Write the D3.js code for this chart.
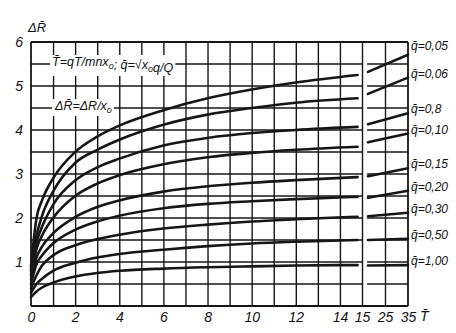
<!DOCTYPE html>
<html><head><meta charset="utf-8">
<script src="https://cdn.jsdelivr.net/npm/d3@7"></script>
<style>
html,body{margin:0;padding:0;background:#fff;}
svg text{font-family:"Liberation Sans Narrow","Liberation Sans",Arial,sans-serif;font-style:italic;fill:#111;}
</style></head><body>
<svg id="chart" width="456" height="333"></svg>
<script>
// ---- data ----
const tMain = [0, 0.25, 0.5, 1, 2, 3, 4, 6, 8, 10, 12, 14.8];
const q005 = [0.9, 2.0, 2.4, 2.9, 3.5, 3.85, 4.1, 4.45, 4.72, 4.92, 5.08, 5.25];
const q006 = [0.85, 1.6, 2.05, 2.6, 3.25, 3.55, 3.78, 4.12, 4.35, 4.5, 4.62, 4.72];
const q008 = [0.8, 1.45, 1.8, 2.3, 2.85, 3.15, 3.35, 3.65, 3.82, 3.93, 4.0, 4.07];
const q010 = [0.7, 1.3, 1.6, 2.0, 2.5, 2.78, 2.97, 3.22, 3.38, 3.48, 3.55, 3.62];
const q015 = [0.6, 1.1, 1.35, 1.65, 2.02, 2.25, 2.4, 2.6, 2.72, 2.8, 2.86, 2.93];
const q020 = [0.5, 0.95, 1.15, 1.42, 1.73, 1.92, 2.05, 2.22, 2.32, 2.38, 2.43, 2.48];
const q030 = [0.4, 0.7, 0.92, 1.15, 1.38, 1.52, 1.62, 1.76, 1.85, 1.92, 1.97, 2.03];
const q050 = [0.3, 0.5, 0.62, 0.8, 0.98, 1.1, 1.18, 1.28, 1.36, 1.42, 1.46, 1.5];
const q100 = [0.2, 0.33, 0.42, 0.53, 0.67, 0.75, 0.8, 0.85, 0.88, 0.9, 0.92, 0.93];

const tRight = [17.6, 35];
const r005 = [5.32, 5.71];
const r006 = [4.82, 5.19];
const r008 = [4.13, 4.38];
const r010 = [3.72, 3.92];
const r015 = [2.95, 3.13];
const r020 = [2.46, 2.62];
const r030 = [2.04, 2.12];
const r050 = [1.5, 1.53];
const r100 = [0.92, 0.93];

const qLabels = ["0,05", "0,06", "0,8", "0,10", "0,15", "0,20", "0,30", "0,50", "1,00"];
const xTickLabels = [0, 2, 4, 6, 8, 10, 12, 14, 15, 25, 35];
const yTickLabels = [1, 2, 3, 4, 5, 6];
const xGridVals = [1,2,3,4,5,6,7,8,9,10,11,12,13,14,15,25];
const yGridVals = [0.5,1,1.5,2,2.5,3,3.5,4,4.5,5,5.5];

const mainSeries = [q005, q006, q008, q010, q015, q020, q030, q050, q100];
const rightSeries = [r005, r006, r008, r010, r015, r020, r030, r050, r100];

// ---- layout ----
const svg = d3.select("#chart");
const ink = "#161616";
const x = d3.scaleLinear().domain([0, 15, 35]).range([31, 362, 408]);
const y = d3.scaleLinear().domain([0, 6]).range([306, 42]);
const gapEnd = 17.2;

// vertical grid via axis
svg.append("g").attr("transform", `translate(0,${y(0)})`)
  .call(d3.axisBottom(x).tickValues(xGridVals).tickSize(-(y(0) - y(6))).tickFormat(""))
  .call(g => g.select(".domain").remove())
  .call(g => g.selectAll("line").attr("stroke", ink).attr("stroke-width", 1.4));

// horizontal grid (broken at the axis gap)
const hg = svg.append("g").attr("stroke", ink).attr("stroke-width", 1.4);
yGridVals.forEach(v => {
  hg.append("line").attr("x1", x(0)).attr("x2", x(15)).attr("y1", y(v)).attr("y2", y(v));
  hg.append("line").attr("x1", x(gapEnd)).attr("x2", x(35)).attr("y1", y(v)).attr("y2", y(v));
});

// frame
const fr = svg.append("g").attr("stroke", ink).attr("stroke-width", 1.8);
fr.append("line").attr("x1", x(0)).attr("x2", x(35)).attr("y1", y(6)).attr("y2", y(6));
fr.append("line").attr("x1", x(0)).attr("x2", x(35)).attr("y1", y(0)).attr("y2", y(0));
fr.append("line").attr("x1", x(0)).attr("x2", x(0)).attr("y1", y(0)).attr("y2", y(6));
fr.append("line").attr("x1", x(35)).attr("x2", x(35)).attr("y1", y(0)).attr("y2", y(6));

// curves
const line = d3.line().x(d => x(d[0])).y(d => y(d[1])).curve(d3.curveMonotoneX);
const cg = svg.append("g").attr("fill", "none").attr("stroke", ink).attr("stroke-width", 2.6).attr("stroke-linecap", "round");
mainSeries.forEach(s => cg.append("path").attr("d", line(tMain.map((t, i) => [t, s[i]]))));
rightSeries.forEach(s => cg.append("path").attr("d", line(tRight.map((t, i) => [t, s[i]]))));

// axes labels
svg.append("g").attr("transform", `translate(0,${y(0)})`)
  .call(d3.axisBottom(x).tickValues(xTickLabels).tickSize(0).tickPadding(6).tickFormat(d => d))
  .call(g => g.select(".domain").remove())
  .call(g => g.selectAll("text").attr("font-size", 14).style("font-family", null));
svg.append("g").attr("transform", `translate(${x(0)},0)`)
  .call(d3.axisLeft(y).tickValues(yTickLabels).tickSize(0).tickPadding(8).tickFormat(d => d))
  .call(g => g.select(".domain").remove())
  .call(g => g.selectAll("text").attr("font-size", 14).style("font-family", null));

svg.append("text").attr("x", x(35) + 12).attr("y", y(0) + 15).attr("font-size", 14).text("T\u0304");
svg.append("text").attr("x", x(0) - 3).attr("y", y(6) - 10).attr("font-size", 13).text("\u0394R\u0304");

// series labels
mainSeries.forEach((s, i) => {
  const end = rightSeries[i][1];
  const off = i === 0 ? -9 : -4;
  svg.append("text").attr("x", x(35) + 3).attr("y", y(end) + off + 4)
    .attr("font-size", 12).text("q\u0304=" + qLabels[i]);
});

// annotations with white backing
function note(xp, yp, parts) {
  const g = svg.append("g");
  const rect = g.append("rect").attr("fill", "#fff");
  const t = g.append("text").attr("x", xp).attr("y", yp).attr("font-size", 12.5);
  parts.forEach(p => {
    if (p.sub) {
      t.append("tspan").attr("font-size", 9).attr("dy", 3).text(p.sub);
      t.append("tspan").attr("dy", -3).text("");
    } else t.append("tspan").text(p.t);
  });
  const b = t.node().getBBox();
  rect.attr("x", b.x - 2).attr("y", b.y).attr("width", b.width + 4).attr("height", b.height + 1);
}
note(52, 66, [{t: "T\u0304=qT/mnx"}, {sub: "o"}, {t: "; q\u0304=\u221Ax"}, {sub: "o"}, {t: "q/Q"}]);
note(55, 110, [{t: "\u0394R\u0304=\u0394R/x"}, {sub: "o"}]);
</script>
</body></html>
